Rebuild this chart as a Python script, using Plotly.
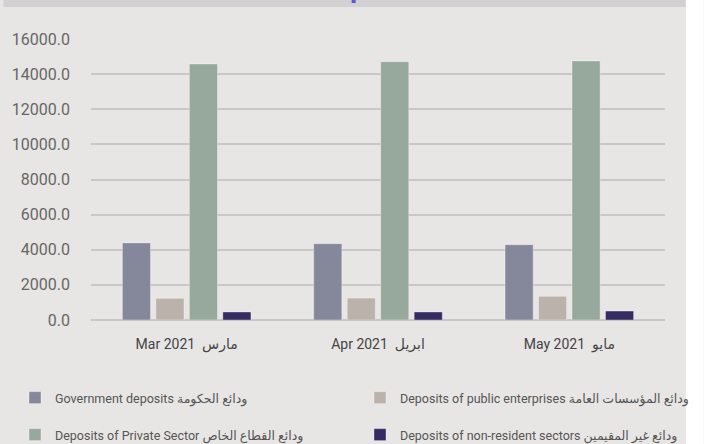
import plotly.graph_objects as go

# data
months = ["Mar 2021  مارس", "Apr 2021  ابريل", "May 2021  مايو"]
gov_deposits = [4390, 4345, 4290]
public_enterprises = [1235, 1250, 1350]
private_sector = [14580, 14710, 14750]
non_resident = [455, 455, 510]

series_names = [
    "Government deposits ودائع الحكومة",
    "Deposits of public enterprises ودائع المؤسسات العامة",
    "Deposits of Private Sector ودائع القطاع الخاص",
    "Deposits of non-resident sectors ودائع غير المقيمين",
]
series_values = [gov_deposits, public_enterprises, private_sector, non_resident]
series_colors = ["#85879b", "#bab2ab", "#97a99c", "#342c62"]

y_ticks = [0, 2000, 4000, 6000, 8000, 10000, 12000, 14000, 16000]

FONT = "Roboto, DejaVu Sans"
W, H = 704, 444
L, R, T, B = 88, 39, 39, 124

# legend slots (pixel position of each item): two columns, two rows
legend_slots = [(15, 398), (360, 398), (15, 435), (360, 435)]
legend_ids = ["legend", "legend2", "legend3", "legend4"]

fig = go.Figure()
for name, vals, col, lg in zip(series_names, series_values, series_colors, legend_ids):
    fig.add_trace(go.Bar(
        x=months, y=vals, name=name, showlegend=True,
        marker=dict(color=col, line=dict(color="rgba(255,255,255,0.35)", width=1)),
        legend=lg,
    ))

pw = W - L - R
ph = H - T - B


def px_x(x):
    return (x - L) / pw


def px_y(y):
    return (H - B - y) / ph


legends = {}
for lg, (lx, ly) in zip(legend_ids, legend_slots):
    legends[lg] = dict(
        orientation="h", xref="container", yref="container", visible=True,
        x=lx / W, y=1 - ly / H, xanchor="left", yanchor="middle",
        font=dict(size=12.5, color="#555555"), bgcolor="rgba(0,0,0,0)",
    )

fig.update_layout(
    width=W, height=H,
    margin=dict(l=L, r=R, t=T, b=B),
    showlegend=True,
    paper_bgcolor="#e7e6e4",
    plot_bgcolor="rgba(0,0,0,0)",
    barmode="group",
    bargap=0.3,
    bargroupgap=0.16,
    font=dict(family=FONT, size=14, color="#555555"),
    xaxis=dict(
        showgrid=False, ticks="outside", ticklen=11, tickcolor="rgba(0,0,0,0)",
        tickfont=dict(size=14, color="#444444"), showline=False,
    ),
    yaxis=dict(
        range=[0, 16000], tickvals=y_ticks,
        ticktext=[f"{v:.1f}" for v in y_ticks],
        gridcolor="#c9c8c6", gridwidth=1.5,
        zeroline=True, zerolinecolor="#c9c8c6", zerolinewidth=2,
        tickfont=dict(size=16, color="#666666"),
        ticklabelstandoff=20,
    ),
    shapes=[
        # darker band along the top
        dict(type="rect", xref="paper", yref="paper", x0=px_x(0), x1=px_x(686),
             y0=px_y(7), y1=px_y(0), fillcolor="#d2d0d1", line=dict(width=0)),
        # white strip on the right
        dict(type="rect", xref="paper", yref="paper", x0=px_x(686), x1=px_x(W),
             y0=px_y(H), y1=px_y(0), fillcolor="#ffffff", line=dict(width=0)),
        dict(type="rect", xref="paper", yref="paper", x0=px_x(350), x1=px_x(354),
             y0=px_y(3), y1=px_y(0), fillcolor="#5b5bd0", line=dict(width=0)),
    ],
    **legends,
)

fig.write_html("out.html", config={"displayModeBar": False},
               post_script="document.body.style.margin='0';")
